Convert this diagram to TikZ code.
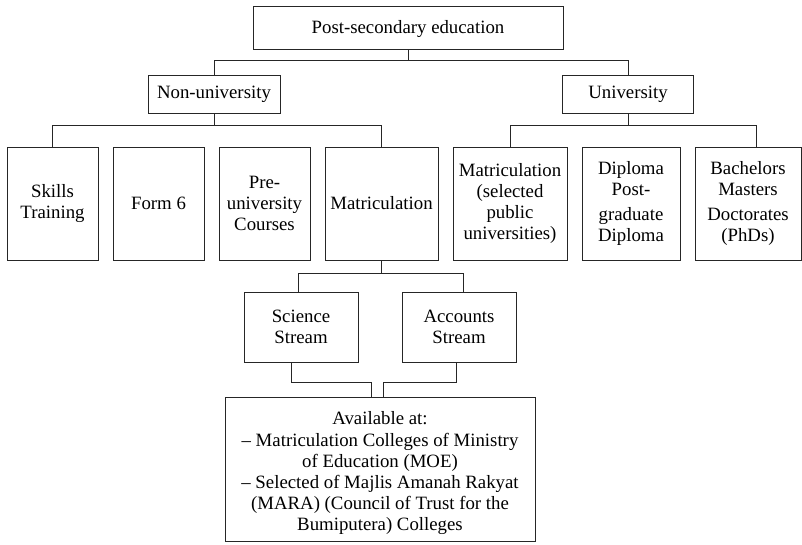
\documentclass[tikz,border=0pt]{standalone}
\usepackage{fontspec}
\setmainfont{Liberation Serif}
\begin{document}
\begin{tikzpicture}[x=1pt,y=-1pt,
  box/.style={draw=black!85, line width=0.9pt, align=center, inner sep=0pt,
    font=\fontsize{18.8}{21.2}\selectfont},
  conn/.style={draw=black!85, line width=0.9pt}]
\useasboundingbox (0,0) rectangle (802,544);
% top
\node[box, minimum width=310pt, minimum height=43pt] (post) at (408,27.5) {\rule{0pt}{17pt}Post-secondary education};
\node[box, minimum width=132pt, minimum height=38pt] (nonuni) at (214,94) {Non-university};
\node[box, minimum width=131pt, minimum height=38pt] (uni) at (628,94) {University};
% left row
\node[box, minimum width=91pt, minimum height=113pt] (skills) at (52.5,203.5) {Skills\\Training};
\node[box, minimum width=91pt, minimum height=113pt] (form) at (158.5,203.5) {Form 6};
\node[box, minimum width=91pt, minimum height=113pt] (pre) at (264.5,203.5) {Pre-\\university\\Courses};
\node[box, minimum width=113pt, minimum height=113pt] (matric) at (381.5,203.5) {Matriculation};
% right row
\node[box, minimum width=114pt, minimum height=113pt] (msel) at (510,203.5) {Matriculation\\(selected\\public\\universities)};
\node[box, minimum width=98pt, minimum height=113pt] (dipl) at (631,203.5) {Diploma\\Post-\\[4pt]graduate\\Diploma};
\node[box, minimum width=106pt, minimum height=113pt] (bach) at (748,203.5) {Bachelors\\Masters\\[4pt]Doctorates\\(PhDs)};
% streams
\node[box, minimum width=114pt, minimum height=70pt] (sci) at (301,327) {Science\\Stream};
\node[box, minimum width=114pt, minimum height=70pt] (acc) at (459,327) {Accounts\\Stream};
% bottom
\node[box, minimum width=310pt, minimum height=144pt] (avail) at (380,469)
  {\rule{0pt}{22pt}Available at:\\ – Matriculation Colleges of Ministry\\ of Education (MOE)\\ – Selected of Majlis Amanah Rakyat\\ (MARA) (Council of Trust for the\\ Bumiputera) Colleges};
% connectors
\draw[conn] (post.south) -- (post.south |- 0,61);
\draw[conn] (nonuni.north) -- (nonuni.north |- 0,60) -| (uni.north);
\draw[conn] (nonuni.south) -- (nonuni.south |- 0,125);
\draw[conn] (skills.north) -- (skills.north |- 0,125) -| (matric.north);
\draw[conn] (uni.south) -- (uni.south |- 0,125);
\draw[conn] (msel.north) -- (msel.north |- 0,125) -| ([xshift=8pt]bach.north);
\draw[conn] (matric.south) -- (matric.south |- 0,273);
\draw[conn] ([xshift=-3pt]sci.north) -- ([xshift=-3pt]sci.north |- 0,273) -| ([xshift=4pt]acc.north);
\draw[conn] ([xshift=-10pt]sci.south) -- ([xshift=-10pt]sci.south |- 0,382) -| ([xshift=-9pt]avail.north);
\draw[conn] ([xshift=-3pt]acc.south) -- ([xshift=-3pt]acc.south |- 0,382) -| ([xshift=3pt]avail.north);
\end{tikzpicture}
\end{document}
